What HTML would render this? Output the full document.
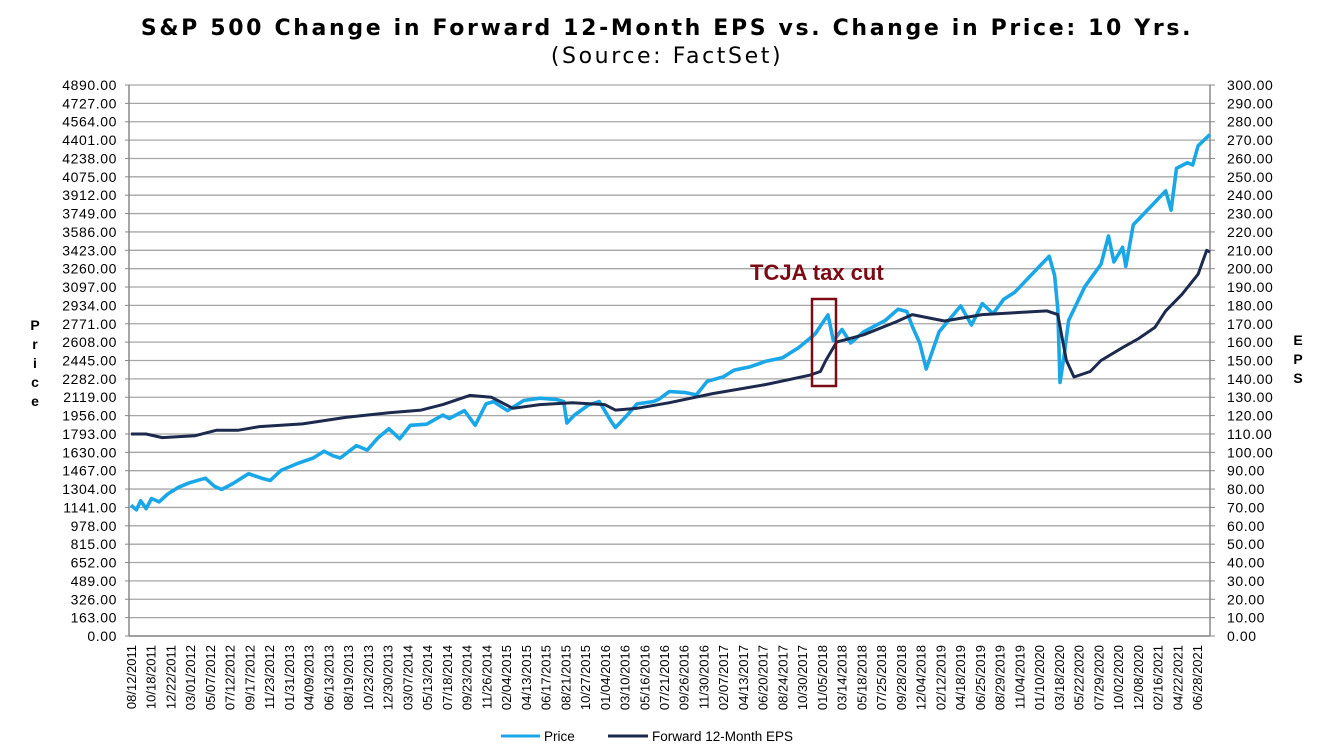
<!DOCTYPE html>
<html><head><meta charset="utf-8"><style>
body{margin:0;background:#fff;}
svg{display:block;font-family:"Liberation Sans",Arial,sans-serif;}
</style></head><body>
<svg id="c" width="1333" height="755">
<text x="667" y="35" text-anchor="middle" font-size="22" font-weight="bold" letter-spacing="2.65" fill="#000" style="font-family:'DejaVu Sans',sans-serif">S&amp;P 500 Change in Forward 12-Month EPS vs. Change in Price: 10 Yrs.</text>
<text x="667" y="63" text-anchor="middle" font-size="22" letter-spacing="2.6" fill="#000" style="font-family:'DejaVu Sans',sans-serif">(Source: FactSet)</text>
<g id="grid"></g>
<g id="ly"></g>
<g id="ry"></g>
<g id="xl"></g>
<g font-size="14" font-weight="bold" text-anchor="middle">
<text x="35" y="330">P</text><text x="35" y="349">r</text><text x="35" y="368">i</text><text x="35" y="387">c</text><text x="35" y="406">e</text></g>
<g font-size="14" font-weight="bold" text-anchor="middle">
<text x="1298" y="345">E</text><text x="1298" y="364">P</text><text x="1298" y="383">S</text></g>
<g id="series"></g>
<text x="750" y="280" font-size="22" font-weight="bold" fill="#7b0a14">TCJA tax cut</text>
<rect x="812" y="299" width="24" height="87" fill="none" stroke="#7b0a14" stroke-width="2.5"/>
<g>
<line x1="501" y1="736" x2="540" y2="736" stroke="#1aa7e8" stroke-width="3"/>
<text x="544" y="741" font-size="13.5">Price</text>
<line x1="608" y1="736" x2="648" y2="736" stroke="#1c2a4e" stroke-width="3"/>
<text x="652" y="741" font-size="13.5">Forward 12-Month EPS</text>
</g>
</svg>
<script>
const xLabels=["08/12/2011","10/18/2011","12/22/2011","03/01/2012","05/07/2012","07/12/2012","09/17/2012","11/23/2012","01/31/2013","04/09/2013","06/13/2013","08/19/2013","10/23/2013","12/30/2013","03/07/2014","05/13/2014","07/18/2014","09/23/2014","11/26/2014","02/04/2015","04/13/2015","06/17/2015","08/21/2015","10/27/2015","01/04/2016","03/10/2016","05/16/2016","07/21/2016","09/26/2016","11/30/2016","02/07/2017","04/13/2017","06/20/2017","08/24/2017","10/30/2017","01/05/2018","03/14/2018","05/18/2018","07/25/2018","09/28/2018","12/04/2018","02/12/2019","04/18/2019","06/25/2019","08/29/2019","11/04/2019","01/10/2020","03/18/2020","05/22/2020","07/29/2020","10/02/2020","12/08/2020","02/16/2021","04/22/2021","06/28/2021"];
const priceT=[2011.61,2011.66,2011.7,2011.75,2011.8,2011.87,2011.95,2012.05,2012.15,2012.3,2012.38,2012.45,2012.55,2012.7,2012.82,2012.9,2013.0,2013.15,2013.3,2013.4,2013.48,2013.55,2013.7,2013.8,2013.9,2014.0,2014.1,2014.2,2014.35,2014.5,2014.56,2014.7,2014.8,2014.9,2014.97,2015.1,2015.25,2015.4,2015.55,2015.62,2015.65,2015.72,2015.85,2015.95,2016.05,2016.1,2016.2,2016.3,2016.45,2016.5,2016.6,2016.75,2016.85,2016.95,2017.1,2017.2,2017.35,2017.5,2017.65,2017.8,2017.95,2018.07,2018.12,2018.2,2018.28,2018.4,2018.6,2018.72,2018.8,2018.85,2018.92,2018.98,2019.1,2019.3,2019.4,2019.5,2019.6,2019.7,2019.8,2020.0,2020.12,2020.17,2020.2,2020.22,2020.26,2020.3,2020.45,2020.6,2020.67,2020.72,2020.8,2020.83,2020.9,2021.0,2021.1,2021.2,2021.25,2021.3,2021.4,2021.45,2021.5,2021.61];
const priceV=[1160,1120,1200,1130,1220,1190,1260,1320,1360,1400,1330,1300,1350,1440,1400,1380,1470,1530,1580,1640,1600,1580,1690,1650,1760,1840,1750,1870,1880,1960,1930,2000,1870,2060,2080,2000,2090,2110,2100,2080,1890,1960,2050,2080,1920,1850,1950,2060,2080,2100,2170,2160,2140,2260,2300,2360,2390,2440,2470,2560,2680,2850,2620,2720,2600,2700,2800,2900,2880,2750,2600,2370,2700,2930,2760,2950,2860,2990,3050,3250,3370,3200,2900,2250,2500,2800,3100,3300,3550,3320,3450,3280,3650,3750,3850,3950,3780,4150,4200,4180,4350,4450];
const epsT=[2011.61,2011.75,2011.9,2012.2,2012.4,2012.6,2012.8,2013.2,2013.6,2014.0,2014.3,2014.5,2014.75,2014.95,2015.15,2015.4,2015.7,2016.0,2016.1,2016.3,2016.6,2017.0,2017.5,2017.9,2018.0,2018.05,2018.15,2018.4,2018.7,2018.85,2019.15,2019.5,2019.8,2020.1,2020.2,2020.28,2020.35,2020.5,2020.6,2020.8,2020.95,2021.1,2021.2,2021.35,2021.5,2021.58,2021.61];
const epsV=[110,110,108,109,112,112,114,115.5,119,121.5,123,126,131,130,124,126,127,126,123,124,127,132,137,142,144,150,160,164,171,175,171.5,175,176,177,175,150,141,144,150,157,162,168,177,186,197,210,209];
const L=129,R=1210,T=85,B=636,PMAX=4890,EMAX=300,T0=2011.61,T1=2021.49;
const xs=t=>131+(t-T0)/(T1-T0)*1066, yp=v=>B-v/PMAX*(B-T), ye=v=>B-v/EMAX*(B-T);
const NS="http://www.w3.org/2000/svg";
function mk(tag,attrs,parent,txt){const e=document.createElementNS(NS,tag);for(const k in attrs)e.setAttribute(k,attrs[k]);if(txt!=null)e.textContent=txt;parent.appendChild(e);return e;}
const grid=document.getElementById('grid'),ly=document.getElementById('ly'),ry=document.getElementById('ry'),xl=document.getElementById('xl'),ser=document.getElementById('series');
for(let i=0;i<=30;i++){const y=B-i*(B-T)/30;
 const g=mk('line',{x1:L,x2:R,y1:y,y2:y,stroke:'#a6a6a6','stroke-width':1.3},grid);
 
 const a=mk('text',{x:117,y:y+5,'text-anchor':'end','font-size':14,'letter-spacing':0.6},ly,(i*163).toFixed(2));
 
 const b=mk('text',{x:1227,y:y+5,'font-size':14,'letter-spacing':0.6},ry,(i*10).toFixed(2));
 
 mk('line',{x1:L-4,x2:L,y1:y,y2:y,stroke:'#888'},ly);mk('line',{x1:R,x2:R+5,y1:y,y2:y,stroke:'#888'},ry);
}
mk('line',{x1:L,x2:L,y1:T,y2:B,stroke:'#888','stroke-width':1.5},ly);
mk('line',{x1:R,x2:R,y1:T,y2:B,stroke:'#888','stroke-width':1.5},ry);
mk('line',{x1:L,x2:R,y1:B,y2:B,stroke:'#888','stroke-width':1.5},xl);
xLabels.forEach((s,i)=>{const x=131+i*(1066/54)+5;
 const t=mk('text',{x:0,y:0,'text-anchor':'end','font-size':13,transform:`translate(${x},645) rotate(-90)`},xl,s);
 });
const pp=mk('polyline',{points:priceT.map((t,i)=>xs(t).toFixed(1)+','+yp(priceV[i]).toFixed(1)).join(' '),fill:'none',stroke:'#1aa7e8','stroke-width':3.6,'stroke-linejoin':'round'},ser);

const ep=mk('polyline',{points:epsT.map((t,i)=>xs(t).toFixed(1)+','+ye(epsV[i]).toFixed(1)).join(' '),fill:'none',stroke:'#1c2a4e','stroke-width':3,'stroke-linejoin':'round'},ser);

</script>
</body></html>
